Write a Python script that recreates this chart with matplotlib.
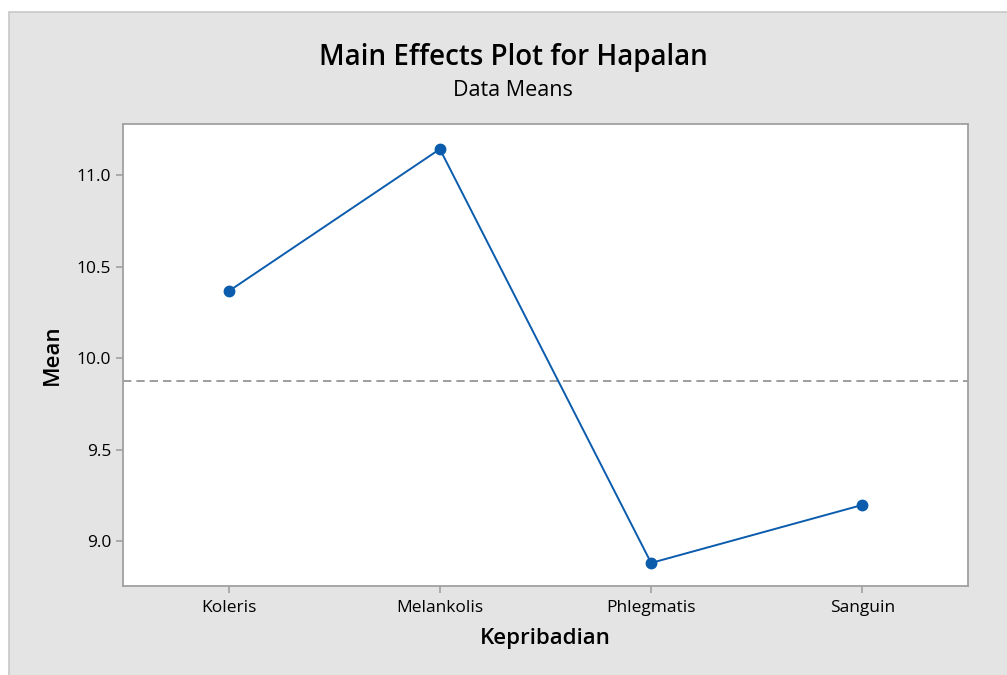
import matplotlib
matplotlib.use('Agg')
import matplotlib.pyplot as plt
from matplotlib.patches import Rectangle

plt.rcParams['font.family'] = ['Open Sans', 'DejaVu Sans']

# Data
kategori = ['Koleris', 'Melankolis', 'Phlegmatis', 'Sanguin']
rata = [10.365, 11.142, 8.880, 9.197]
rata_total = 9.874
yticks = [9.0, 9.5, 10.0, 10.5, 11.0]

W, H = 1007, 675
fig = plt.figure(figsize=(W / 100, H / 100), dpi=100, facecolor='white')

# panel abu-abu di belakang
panel = Rectangle((9 / W, -0.01), 1.02 - 9 / W, (H - 12) / H + 0.01,
                  transform=fig.transFigure, facecolor='#e4e4e4',
                  edgecolor='#c8c8c8', linewidth=1.2, zorder=-10)
fig.patches.append(panel)

ax = fig.add_axes([123 / W, (H - 586) / H, (968 - 123) / W, (586 - 124) / H])
ax.set_facecolor('white')

x = list(range(len(kategori)))
ax.plot(x, rata, color='#0b5cad', linewidth=1.4, marker='o', markersize=7.5,
        markerfacecolor='#0b5cad', markeredgecolor='#0b5cad', zorder=3)
ax.axhline(rata_total, color='#8c8c8c', linestyle=(0, (5, 3)), linewidth=1.2, zorder=2)

ax.set_xlim(-0.5, 3.5)
ax.set_ylim(8.754, 11.279)
ax.set_xticks(x)
ax.set_xticklabels(kategori, fontsize=12.5, fontweight='medium')
ax.set_yticks(yticks)
ax.set_yticklabels(['%.1f' % v for v in yticks], fontsize=12.5, fontweight='medium')

for s in ax.spines.values():
    s.set_color('#a0a0a0')
    s.set_linewidth(1.3)
ax.tick_params(axis='both', colors='#a0a0a0', labelcolor='black', length=5, width=1.2)
ax.tick_params(axis='x', pad=5)

ax.set_xlabel('Kepribadian', fontsize=16, fontweight='semibold', labelpad=9)
ax.set_ylabel('Mean', fontsize=16, fontweight='semibold', labelpad=10)

fig.text(513 / W, 1 - 57 / H, 'Main Effects Plot for Hapalan', ha='center', va='center',
         fontsize=20, fontweight='semibold')
fig.text(513 / W, 1 - 91 / H, 'Data Means', ha='center', va='center', fontsize=15.5,
         fontweight='medium')

fig.savefig('out.png', dpi=100, facecolor=fig.get_facecolor())
